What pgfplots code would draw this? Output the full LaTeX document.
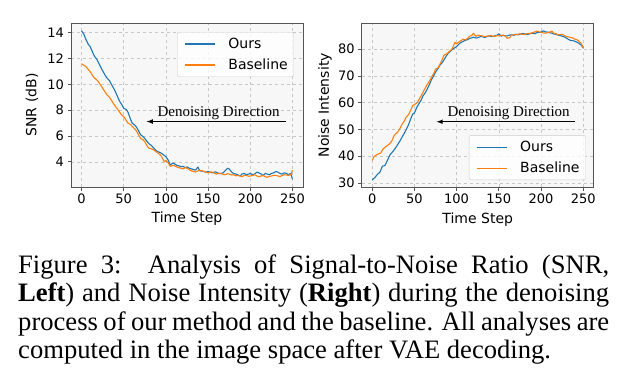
\documentclass[border=0pt]{standalone}
\usepackage{fontspec}
\usepackage{pgfplots}
\pgfplotsset{compat=1.18}
\setmainfont{Liberation Serif}
\newfontfamily\dejavu{DejaVu Sans}
\definecolor{tabblue}{HTML}{1F77B4}
\definecolor{taborange}{HTML}{FF7F0E}
\definecolor{spine}{HTML}{555555}
\pgfplotsset{legend image code/.code={\path (0pt,0pt); \draw[#1] (2pt,0pt) -- (32pt,0pt);}}
\pgfplotsset{
  mystyle/.style={
    scale only axis,
    width=232pt, height=164pt,
    xmin=-12.5, xmax=262.5,
    xtick={0,50,100,150,200,250},
    tick pos=left,
    tick align=outside,
    major tick length=3.5pt,
    every tick/.style={spine, line width=0.8pt},
    axis line style={spine, line width=0.9pt},
    axis background/.style={fill=black!3},
    grid=major,
    major grid style={dashed, black!22, line width=0.6pt},
    /pgf/number format/assume math mode=true,
    ticklabel style={font=\dejavu\fontsize{13}{15}\selectfont},
    every axis x label/.style={at={(axis description cs:0.5,-0.195)}, anchor=center, font=\dejavu\fontsize{14}{16}\selectfont},
    xlabel={Time Step},
    legend cell align=left,
    legend style={draw=black!20, fill=white, fill opacity=0.8, text opacity=1,
      rounded corners=2pt, font=\dejavu\fontsize{14}{16}\selectfont,
      inner xsep=5pt, inner ysep=5.5pt, row sep=8.5pt, column sep=12pt,
      nodes={inner xsep=1pt, inner ysep=0pt, text height=10.5pt, text depth=2pt}},
  }
}
\pgfplotstableread{
t v
0 14.15
3 13.85
5 13.5
8 13.1
10 12.95
13 12.5
15 12.2
18 11.95
20 11.7
23 11.3
25 11.05
28 10.7
30 10.5
33 10.3
35 10.05
38 9.7
40 9.45
43 9.0
45 8.7
48 8.4
50 8.15
53 8.05
55 7.85
58 7.3
60 7.0
63 6.85
65 6.7
68 6.35
70 6.1
73 5.95
75 5.8
78 5.55
80 5.4
83 5.25
85 5.1
88 4.9
90 4.8
93 4.72
95 4.65
98 4.5
100 4.4
103 4.1
105 3.75
108 3.9
110 3.85
113 3.72
115 3.7
118 3.62
120 3.65
123 3.55
125 3.6
128 3.5
130 3.45
133 3.4
135 3.35
138 3.6
140 3.3
143 3.28
145 3.25
148 3.2
150 3.25
153 3.18
155 3.15
158 3.22
160 3.2
163 3.08
165 3.1
168 3.15
170 3.3
173 3.5
175 3.45
178 3.2
180 3.1
183 3.05
185 3.0
188 2.9
190 3.05
193 3.1
195 3.0
198 3.05
200 3.1
203 3.0
205 3.05
208 3.2
210 3.15
213 3.05
215 2.95
218 3.1
220 3.05
223 3.0
225 3.1
228 3.15
230 3.25
233 3.2
235 3.1
238 3.05
240 3.15
243 3.1
245 3.0
248 3.1
250 2.65
}\snrours
\pgfplotstableread{
t v
0 11.6
3 11.45
5 11.4
8 11.15
10 11.0
13 10.7
15 10.5
18 10.35
20 10.2
23 9.9
25 9.7
28 9.4
30 9.2
33 9.0
35 8.8
38 8.5
40 8.3
43 8.05
45 7.85
48 7.6
50 7.5
53 7.2
55 7.0
58 6.9
60 6.75
63 6.55
65 6.4
68 6.05
70 5.8
73 5.7
75 5.55
78 5.2
80 5.05
83 5.0
85 4.95
88 4.8
90 4.7
93 4.55
95 4.4
98 4.0
100 4.1
103 3.9
105 3.65
108 3.72
110 3.7
113 3.6
115 3.55
118 3.5
120 3.45
123 3.55
125 3.5
128 3.38
130 3.3
133 3.25
135 3.2
138 3.3
140 3.35
143 3.3
145 3.25
148 3.2
150 3.15
153 3.22
155 3.2
158 3.1
160 3.05
163 3.12
165 3.1
168 3.02
170 3.0
173 3.08
175 3.05
178 2.98
180 3.0
183 2.92
185 2.95
188 2.9
190 2.85
193 2.95
195 2.95
198 2.88
200 2.9
203 2.95
205 3.0
208 2.9
210 2.85
213 2.9
215 2.95
218 2.85
220 2.8
223 2.88
225 2.9
228 2.95
230 2.95
233 2.9
235 2.85
238 2.95
240 3.0
243 2.98
245 2.95
248 3.0
250 3.35
}\snrbase
\pgfplotstableread{
t v
0 31.2
3 32.0
6 33.2
9 34.0
12 36.3
15 36.5
18 38.5
21 40.5
25 42.0
28 43.3
30 44.3
33 45.8
35 47.0
38 48.6
40 49.8
43 51.8
45 53.5
48 55.8
50 56.2
53 58.4
55 59.5
58 61.0
60 62.5
63 63.8
65 65.0
68 67.0
70 68.5
73 70.2
75 71.5
78 72.8
80 74.0
83 75.0
85 76.0
88 77.6
90 78.5
93 79.4
95 80.0
98 80.6
100 81.0
103 82.0
105 82.5
108 83.0
110 83.3
113 83.6
115 84.0
118 84.3
120 84.5
123 84.2
125 84.3
128 84.7
130 84.8
133 84.4
135 84.6
138 85.0
140 84.9
143 84.7
145 85.0
148 85.2
150 85.8
153 84.9
155 85.2
158 85.0
160 85.0
163 85.3
165 85.4
168 85.2
170 85.6
173 85.4
175 85.6
178 85.9
180 85.8
183 85.5
185 85.6
188 85.9
190 86.0
193 85.8
195 86.2
198 86.3
200 86.4
203 86.9
205 86.5
208 86.4
210 86.2
213 86.0
215 85.7
218 85.6
220 85.3
223 85.1
225 84.9
228 84.6
230 84.2
233 83.6
235 83.3
238 83.2
240 83.0
243 82.6
245 82.2
248 81.5
250 80.4
}\noiseours
\pgfplotstableread{
t v
0 38.5
2 39.8
5 40.5
8 41.0
10 41.2
13 42.8
16 43.6
20 44.5
23 45.6
26 47.8
30 49.0
33 50.5
35 51.8
38 53.2
40 54.5
43 55.6
45 56.8
48 59.0
50 59.3
53 60.0
55 61.0
58 62.6
60 63.8
63 65.6
65 66.8
68 68.2
70 69.5
73 71.0
75 72.6
78 73.0
80 74.3
83 76.2
85 77.8
88 78.2
90 78.8
93 79.6
95 80.3
98 82.6
100 82.0
103 82.8
105 83.2
108 83.8
110 83.5
113 84.0
115 84.8
118 85.2
120 86.0
123 84.8
125 85.3
128 85.1
130 85.0
133 84.7
135 84.8
138 85.0
140 85.2
143 84.9
145 84.8
148 85.1
150 85.0
153 85.2
155 85.3
158 84.8
160 84.1
163 84.3
165 85.3
168 85.4
170 85.5
173 85.6
175 85.8
178 85.6
180 85.5
183 85.8
185 85.9
188 86.0
190 86.2
193 86.5
195 86.8
198 86.5
200 86.3
203 86.1
205 86.0
208 86.2
210 86.4
213 86.8
215 86.0
218 85.8
220 85.4
223 85.5
225 85.6
228 85.1
230 84.8
233 84.6
235 84.4
238 84.2
240 83.8
243 83.5
245 83.0
248 82.0
250 80.6
}\noisebase
\begin{document}
\begin{tikzpicture}
\path[use as bounding box] (0pt,0pt) rectangle (628pt,-385pt);
% Left axis
\begin{axis}[mystyle,
  at={(71pt,-187pt)}, anchor=south west,
  ymin=2.05, ymax=14.75,
  ytick={4,6,8,10,12,14},
  ylabel={SNR (dB)},
  every axis y label/.style={at={(axis description cs:-0.168,0.5)}, rotate=90, anchor=center, font=\dejavu\fontsize{14}{16}\selectfont},
  legend style={at={(0.961,0.945)}, anchor=north east},
]
\addplot[tabblue, line width=1.1pt, line join=round] table[x=t,y=v] {\snrours};
\addlegendentry{Ours}
\addplot[taborange, line width=1.1pt, line join=round] table[x=t,y=v] {\snrbase};
\addlegendentry{Baseline}
\draw[-latex, line width=1.1pt, black] (axis cs:242.2,7.12) -- (axis cs:77.2,7.12);
\node[anchor=base, inner sep=0pt, font=\fontsize{15}{17}\selectfont] at (axis cs:162.4,7.51) {Denoising Direction};
\end{axis}
% Right axis
\begin{axis}[mystyle,
  at={(361.7pt,-187.3pt)}, anchor=south west,
  ymin=28.4, ymax=89.7,
  ytick={30,40,50,60,70,80},
  ylabel={Noise Intensity},
  every axis y label/.style={at={(axis description cs:-0.158,0.5)}, rotate=90, anchor=center, font=\dejavu\fontsize{14}{16}\selectfont},
  legend style={at={(0.9656,0.0445)}, anchor=south east},
]
\addplot[tabblue, line width=1.1pt, line join=round] table[x=t,y=v] {\noiseours};
\addlegendentry{Ours}
\addplot[taborange, line width=1.1pt, line join=round] table[x=t,y=v] {\noisebase};
\addlegendentry{Baseline}
\draw[-latex, line width=1.1pt, black] (axis cs:240.5,52.9) -- (axis cs:76.3,52.9);
\node[anchor=base, inner sep=0pt, font=\fontsize{15}{17}\selectfont] at (axis cs:161.7,54.8) {Denoising Direction};
\end{axis}
% Caption
\begin{scope}[every node/.style={anchor=base west, inner sep=0pt, font=\fontsize{26.6}{28.5}\selectfont}]
\node at (18pt,-273pt) {\makebox[591pt][s]{Figure 3:\ \ Analysis of Signal-to-Noise Ratio (SNR,}};
\node at (18pt,-301.5pt) {\makebox[591pt][s]{\textbf{Left}) and Noise Intensity (\textbf{Right}) during the denoising}};
\node at (18pt,-330pt) {\makebox[591pt][s]{process of our method and the baseline. All analyses are}};
\node at (18pt,-358.5pt) {computed in the image space after VAE decoding.};
\end{scope}
\end{tikzpicture}
\end{document}
